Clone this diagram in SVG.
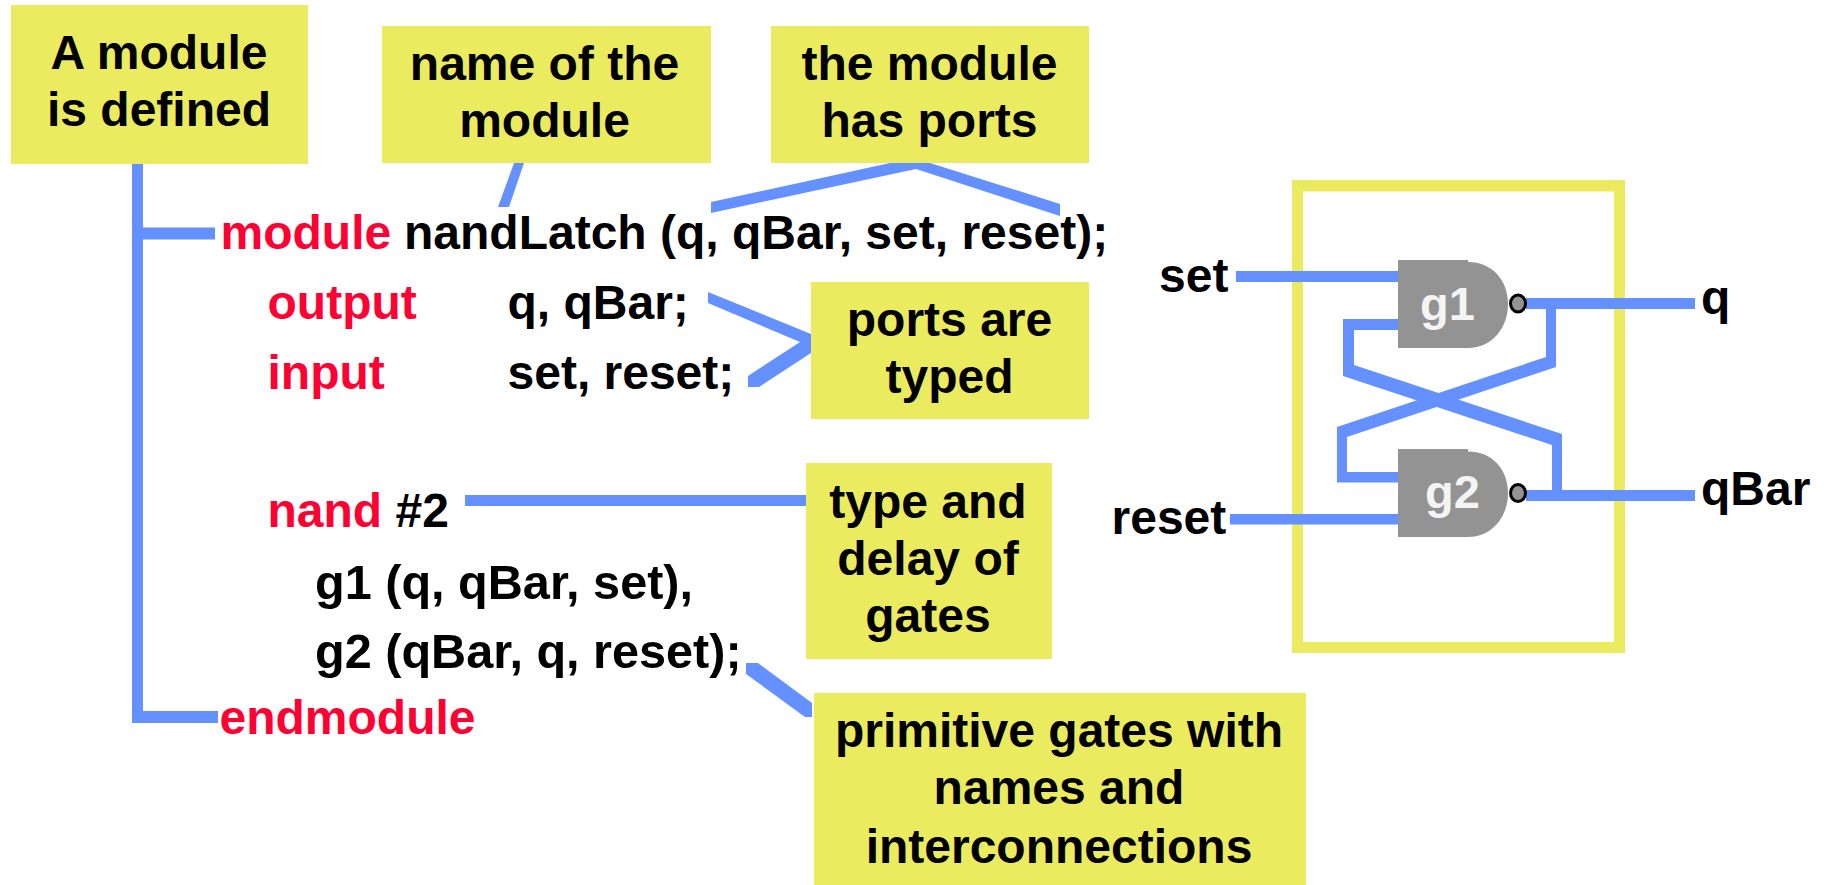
<svg xmlns="http://www.w3.org/2000/svg" width="1824" height="885" viewBox="0 0 1824 885">
<style>
text{font-family:"Liberation Sans",Arial,sans-serif;font-weight:700;font-size:48px;fill:#000}
text.k{font-size:48.6px}
.c{text-anchor:middle}
.r{fill:#ff0033}
.box{fill:#ebeb5f}
.w{fill:#6491ff}
.gate{fill:#939393}
text.gt{fill:#f4f4f4;font-size:47px}
.bub{fill:#939393;stroke:#000;stroke-width:3}
</style>
<rect width="1824" height="885" fill="#fff"/>
<g id="frame"><path class="box" fill-rule="evenodd" d="M1292 180H1625V653H1292ZM1303 191.500V642H1614V191.500Z"/></g>
<g id="connectors">
<path class="w" d="M132 164H143V227.500H215V239.500H143V711H218V723H132Z"/>
<path class="w" d="M514 163H524L509 207H498Z"/>
<path class="w" d="M890 163H930L1060 204V216L916 169L711 213V202Z"/>
<path class="w" d="M708 292L811 334V353L759 387H748V376L800 342L708 303Z"/>
<rect class="w" x="465" y="495" width="341" height="11"/>
<path class="w" d="M746 663H758L812 703V717H805L746 674Z"/>
<rect class="w" x="1236" y="271" width="168" height="11"/>
<rect class="w" x="1230" y="514" width="168" height="10.500"/>
<rect class="w" x="1526" y="298" width="169" height="11"/>
<rect class="w" x="1526" y="490" width="169" height="11"/>
<path class="w" d="M1546 305H1556V367L1347 437V472H1398V482.500H1337V427L1546 357Z"/>
<path class="w" d="M1343 319H1405V330H1354V365L1562 434V495H1552V445L1343 376Z"/>
</g>
<g id="n-defined"><rect class="box" x="11" y="5" width="297" height="159"/><text class="c" x="159" y="69">A module</text><text class="c" x="159" y="126">is defined</text></g>
<g id="n-name"><rect class="box" x="382" y="26" width="329" height="137"/><text class="c" x="544.500" y="80">name of the</text><text class="c" x="544.500" y="137">module</text></g>
<g id="n-ports"><rect class="box" x="771" y="26" width="318" height="137"/><text class="c" x="929.500" y="80">the module</text><text class="c" x="929.500" y="137">has ports</text></g>
<g id="n-typed"><rect class="box" x="811" y="282" width="278" height="137"/><text class="c" x="949.500" y="335.500">ports are</text><text class="c" x="949.500" y="392.500">typed</text></g>
<g id="n-delay"><rect class="box" x="806" y="463" width="246" height="196"/><text class="c" x="928" y="518">type and</text><text class="c" x="928" y="575">delay of</text><text class="c" x="928" y="632">gates</text></g>
<g id="n-prim"><rect class="box" x="814" y="693" width="492" height="192"/><text class="c" x="1059" y="747">primitive gates with</text><text class="c" x="1059" y="804">names and</text><text class="c" x="1059" y="863">interconnections</text></g>
<g id="code">
<text class="r" x="220.500" y="249">module</text><text x="404" y="249">nandLatch (q, qBar, set, reset);</text>
<text class="r" x="267.500" y="319">output</text><text x="507.500" y="319">q, qBar;</text>
<text class="r" x="267.500" y="389">input</text><text x="507.500" y="389">set, reset;</text>
<text class="r" x="267.500" y="527">nand</text><text x="395.500" y="527">#2</text>
<text class="k" x="315" y="599">g1 (q, qBar, set),</text>
<text class="k" x="315" y="668">g2 (qBar, q, reset);</text>
<text class="r" x="219.500" y="734">endmodule</text>
</g>
<g id="g1"><path class="gate" d="M1398 260H1468V262C1492 262 1508 280 1508 304C1508 328 1492 348 1468 348H1398Z"/><ellipse class="bub" cx="1518" cy="303.500" rx="7.500" ry="8.500"/><text class="gt" x="1420" y="320">g1</text></g>
<g id="g2"><path class="gate" d="M1398 449H1468V451.500C1492 451.500 1508 469 1508 493C1508 517 1492 537 1468 537H1398Z"/><ellipse class="bub" cx="1518" cy="493" rx="7.500" ry="8.500"/><text class="gt" x="1425" y="508">g2</text></g>
<g id="labels">
<text x="1159" y="292">set</text>
<text x="1111.500" y="534">reset</text>
<text x="1701" y="314">q</text>
<text x="1701" y="505">qBar</text>
</g>
</svg>
